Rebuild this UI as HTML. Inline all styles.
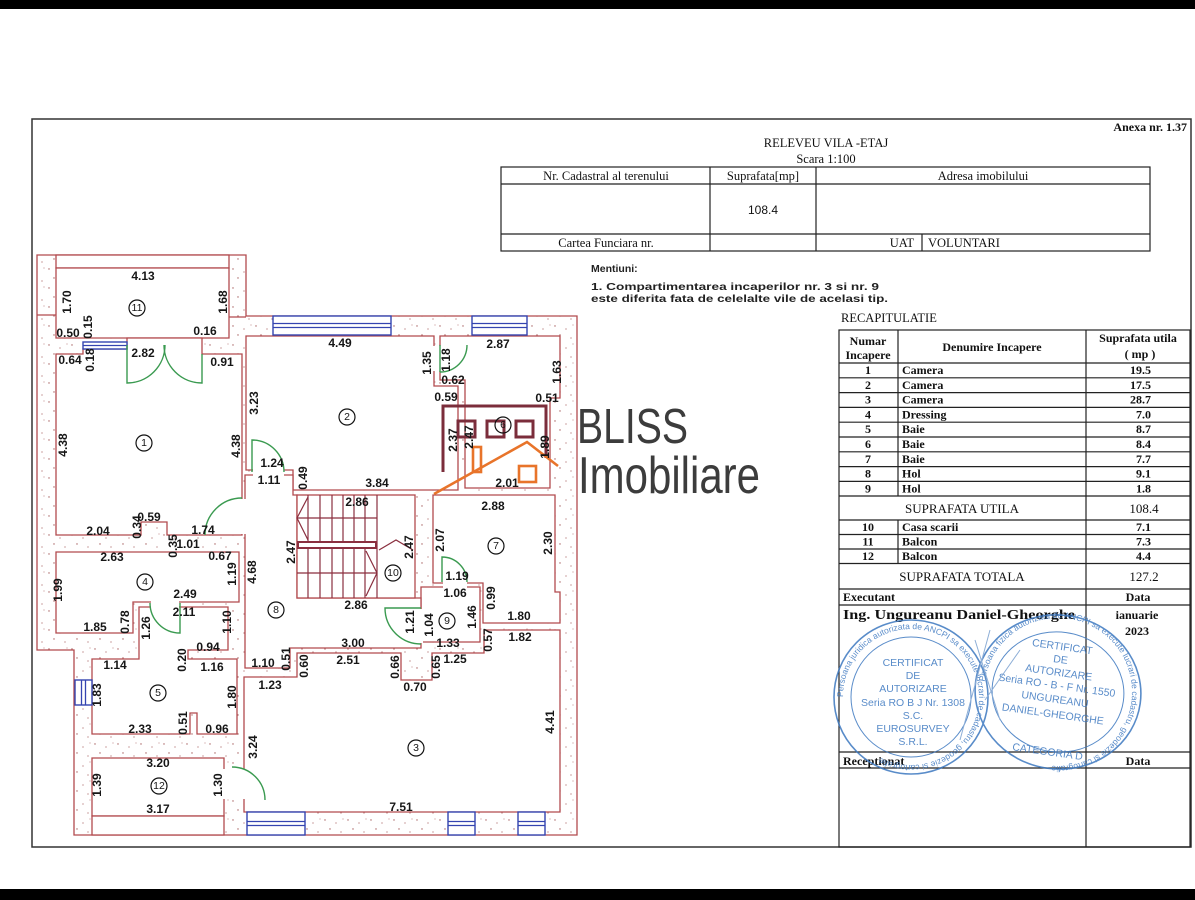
<!DOCTYPE html>
<html><head><meta charset="utf-8">
<style>
html,body{margin:0;padding:0;background:#fff;}
svg{display:block}
.d{font:bold 12px "Liberation Sans",Arial,sans-serif;fill:#161616;text-anchor:middle;dominant-baseline:central}
.w{fill:#fff;stroke:#b24a4e;stroke-width:1.3}
.g{fill:#fff;stroke:none}
.bl{fill:#fff;stroke:#3444b0;stroke-width:1.4}
.dr{fill:none;stroke:#3a9a50;stroke-width:1.4}
.st{fill:none;stroke:#8a2f3f;stroke-width:1.2}
.t{font-family:"Liberation Serif",serif;font-size:12.5px;fill:#111}
.tb{font-family:"Liberation Serif",serif;font-size:12px;font-weight:bold;fill:#111}
.ln{stroke:#222;stroke-width:1.2;fill:none}
.sb{fill:#3d78c0;font-family:"Liberation Sans",sans-serif;font-size:10.5px;text-anchor:middle}
</style></head><body>
<svg width="1195" height="900" viewBox="0 0 1195 900" xmlns="http://www.w3.org/2000/svg">
<defs>
<pattern id="h" width="23" height="19" patternUnits="userSpaceOnUse">
<rect width="23" height="19" fill="#fff"/>
<g fill="#a86060">
<circle cx="3" cy="3" r=".7"/><circle cx="14" cy="6" r=".6"/><circle cx="8" cy="12" r=".7"/><circle cx="19" cy="15" r=".6"/><circle cx="21" cy="2" r=".5"/>
</g></pattern>
<path id="c1" d="M843,697a68,68 0 1,1 136,0a68,68 0 1,1 -136,0"/>
<path id="c2" d="M984,692a74,74 0 1,1 148,0a74,74 0 1,1 -148,0"/>
</defs>

<rect x="0" y="0" width="1195" height="9" fill="#000"/>
<rect x="0" y="889" width="1195" height="11" fill="#000"/>
<rect x="32" y="119" width="1159" height="728" fill="none" stroke="#333" stroke-width="1.5"/>

<!-- building -->
<path d="M37,255H246V316H577V835H74V650H37Z" fill="url(#h)" stroke="#b24a4e" stroke-width="1.3"/>
<line x1="37" y1="315" x2="56" y2="315" stroke="#b24a4e" stroke-width="1.2"/>
<line x1="229" y1="317" x2="246" y2="317" stroke="#b24a4e" stroke-width="1.2"/>
<rect class="w" x="56" y="255" width="173" height="13"/>
<path class="w" d="M56,268H229V338H56Z"/>
<path class="w" d="M56,354H83V349H127V338H202V354H242V535H167V522H141V535H56Z"/>
<path class="w" d="M246,336H434V386H458V490H293V470H246Z"/>
<path class="w" d="M440,336H560V398H550V488H465V380H440Z"/>
<path class="w" d="M433,495H555V592H560V623H483V583H433Z"/>
<path class="w" d="M421,587H480V642H421Z"/>
<path class="w" d="M245,475H293V495H297V598H421V648H290V668H245Z"/>
<rect class="w" x="297" y="495" width="118" height="103"/>
<path class="w" d="M56,552H239V602H133V633H56Z"/>
<path class="w" d="M139,607H228V650H188V659H237V734H197V713H190V734H92V659H139Z"/>
<path class="w" d="M92,758H224V816H92Z"/>
<rect class="w" x="92" y="816" width="132" height="19"/>
<path class="w" d="M244,677H297V653H401V680H432V653H484V630H560V812H244Z"/>

<!-- door gaps -->
<rect class="g" x="240.5" y="499" width="7" height="35"/>
<rect class="g" x="253" y="469" width="31" height="7"/>
<rect class="g" x="433" y="346" width="8" height="25"/>
<rect class="g" x="443" y="582" width="24" height="6"/>
<rect class="g" x="419" y="609" width="4" height="34"/>
<rect class="g" x="151" y="601" width="28" height="7"/>
<rect class="g" x="223" y="769" width="22" height="30"/>

<!-- windows -->
<rect class="bl" x="273" y="316" width="118" height="19"/>
<path d="M273,323.5H391M273,327.5H391" stroke="#3444b0" stroke-width="1.3"/>
<rect class="bl" x="472" y="316" width="55" height="19"/>
<path d="M472,323.5H527M472,327.5H527" stroke="#3444b0" stroke-width="1.3"/>
<rect class="bl" x="83" y="342" width="44" height="7"/>
<path d="M83,345.5H127" stroke="#3444b0" stroke-width="1.3"/>
<rect class="bl" x="75" y="680" width="17" height="25"/>
<path d="M81.5,680V705M85.5,680V705" stroke="#3444b0" stroke-width="1.3"/>
<rect class="bl" x="247" y="812" width="58" height="23"/>
<path d="M247,821.5H305M247,825.5H305" stroke="#3444b0" stroke-width="1.3"/>
<rect class="bl" x="448" y="812" width="27" height="23"/>
<path d="M448,821.5H475M448,825.5H475" stroke="#3444b0" stroke-width="1.3"/>
<rect class="bl" x="518" y="812" width="27" height="23"/>
<path d="M518,821.5H545M518,825.5H545" stroke="#3444b0" stroke-width="1.3"/>

<!-- doors -->
<path class="dr" d="M127,345V383A38,38 0 0 0 165,345"/>
<path class="dr" d="M202,354V383A38,38 0 0 1 164,345"/>
<path class="dr" d="M242,498A37,37 0 0 0 205,535"/>
<path class="dr" d="M252,472V440A32,32 0 0 1 284,472"/>
<path class="dr" d="M440,345V372M440,372A27,27 0 0 0 467,345"/>
<path class="dr" d="M442,582V557A25,25 0 0 1 467,582"/>
<path class="dr" d="M421,608H385A36,36 0 0 0 421,644"/>
<path class="dr" d="M180,603V633A30,30 0 0 1 150,603"/>
<path class="dr" d="M232,767A33,33 0 0 1 265,800"/>

<!-- stairs -->
<g class="st">
<path d="M308,495V542M320,495V542M332,495V542M343,495V542M354,495V542M365,495V542M377,495V598"/>
<path d="M308,548V598M320,548V598M332,548V598M343,548V598M354,548V598M365,548V598"/>
<path d="M297,518H377M297,573H377"/>
<path d="M308,497L297,518L308,540M366,551L377,573L366,596M379,550L396,540L413,550"/>
<rect x="298" y="542" width="78" height="6" stroke-width="2"/>
</g>

<!-- logo -->
<g stroke="#7b2d3b" stroke-width="3" fill="none">
<path d="M443,472V406H546V458"/>
<rect x="458" y="421" width="17" height="16"/>
<rect x="487" y="421" width="17" height="16"/>
<rect x="516" y="421" width="17" height="16"/>
</g>
<g stroke="#e8742a" stroke-width="2.6" fill="none">
<path d="M434,494L527,442L558,466"/>
<rect x="473" y="447" width="8" height="25"/>
<rect x="519" y="466" width="17" height="16"/>
</g>
<text transform="translate(577 443) scale(1 1.3)" x="0" y="0" font-family="Liberation Sans,sans-serif" font-size="38" textLength="111" lengthAdjust="spacingAndGlyphs" fill="#3c3c3c">BLISS</text>
<text transform="translate(578 493) scale(1 1.23)" x="0" y="0" font-family="Liberation Sans,sans-serif" font-size="42" textLength="182" lengthAdjust="spacingAndGlyphs" fill="#3c3c3c">Imobiliare</text>

<!-- room numbers -->
<g fill="none" stroke="#111" stroke-width="1.2">
<circle cx="137" cy="308" r="8"/><circle cx="144" cy="443" r="8"/><circle cx="347" cy="417" r="8"/><circle cx="503" cy="425" r="8"/>
<circle cx="496" cy="546" r="8"/><circle cx="393" cy="573" r="8"/><circle cx="145" cy="582" r="8"/><circle cx="276" cy="610" r="8"/>
<circle cx="447" cy="621" r="8"/><circle cx="158" cy="693" r="8"/><circle cx="416" cy="748" r="8"/><circle cx="159" cy="786" r="8"/>
</g>
<g class="d" style="font-size:10.5px;font-weight:normal">
<text x="137" y="308">11</text><text x="144" y="443">1</text><text x="347" y="417">2</text><text x="503" y="425">6</text>
<text x="496" y="546">7</text><text x="393" y="573">10</text><text x="145" y="582">4</text><text x="276" y="610">8</text>
<text x="447" y="621">9</text><text x="158" y="693">5</text><text x="416" y="748">3</text><text x="159" y="786">12</text>
</g>

<!-- dimensions -->
<g class="d">
<text x="143" y="276">4.13</text><text x="68" y="333">0.50</text><text x="70" y="360">0.64</text><text x="143" y="353">2.82</text>
<text x="205" y="331">0.16</text><text x="222" y="362">0.91</text><text x="340" y="343">4.49</text><text x="498" y="344">2.87</text>
<text x="453" y="380">0.62</text><text x="446" y="397">0.59</text><text x="547" y="398">0.51</text><text x="272" y="463">1.24</text>
<text x="269" y="480">1.11</text><text x="377" y="483">3.84</text><text x="507" y="483">2.01</text><text x="357" y="502">2.86</text>
<text x="493" y="506">2.88</text><text x="98" y="531">2.04</text><text x="149" y="517">0.59</text><text x="203" y="530">1.74</text>
<text x="188" y="544">1.01</text><text x="112" y="557">2.63</text><text x="220" y="556">0.67</text><text x="185" y="594">2.49</text>
<text x="184" y="612">2.11</text><text x="457" y="576">1.19</text><text x="455" y="593">1.06</text><text x="356" y="605">2.86</text>
<text x="95" y="627">1.85</text><text x="208" y="647">0.94</text><text x="115" y="665">1.14</text><text x="212" y="667">1.16</text>
<text x="263" y="663">1.10</text><text x="353" y="643">3.00</text><text x="348" y="660">2.51</text><text x="448" y="643">1.33</text>
<text x="455" y="659">1.25</text><text x="519" y="616">1.80</text><text x="520" y="637">1.82</text><text x="270" y="685">1.23</text>
<text x="415" y="687">0.70</text><text x="140" y="729">2.33</text><text x="217" y="729">0.96</text><text x="158" y="763">3.20</text>
<text x="158" y="809">3.17</text><text x="401" y="807">7.51</text>
</g>
<g class="d">
<text transform="rotate(-90 67 302)" x="67" y="302">1.70</text>
<text transform="rotate(-90 88 327)" x="88" y="327">0.15</text>
<text transform="rotate(-90 90 360)" x="90" y="360">0.18</text>
<text transform="rotate(-90 223 302)" x="223" y="302">1.68</text>
<text transform="rotate(-90 63 445)" x="63" y="445">4.38</text>
<text transform="rotate(-90 254 403)" x="254" y="403">3.23</text>
<text transform="rotate(-90 236 446)" x="236" y="446">4.38</text>
<text transform="rotate(-90 427 363)" x="427" y="363">1.35</text>
<text transform="rotate(-90 446 360)" x="446" y="360">1.18</text>
<text transform="rotate(-90 557 372)" x="557" y="372">1.63</text>
<text transform="rotate(-90 453 440)" x="453" y="440">2.37</text>
<text transform="rotate(-90 469 437)" x="469" y="437">2.47</text>
<text transform="rotate(-90 545 447)" x="545" y="447">1.89</text>
<text transform="rotate(-90 303 478)" x="303" y="478">0.49</text>
<text transform="rotate(-90 291 552)" x="291" y="552">2.47</text>
<text transform="rotate(-90 409 547)" x="409" y="547">2.47</text>
<text transform="rotate(-90 440 540)" x="440" y="540">2.07</text>
<text transform="rotate(-90 548 543)" x="548" y="543">2.30</text>
<text transform="rotate(-90 137 527)" x="137" y="527">0.34</text>
<text transform="rotate(-90 173 546)" x="173" y="546">0.35</text>
<text transform="rotate(-90 232 574)" x="232" y="574">1.19</text>
<text transform="rotate(-90 252 572)" x="252" y="572">4.68</text>
<text transform="rotate(-90 58 590)" x="58" y="590">1.99</text>
<text transform="rotate(-90 125 622)" x="125" y="622">0.78</text>
<text transform="rotate(-90 146 628)" x="146" y="628">1.26</text>
<text transform="rotate(-90 227 622)" x="227" y="622">1.10</text>
<text transform="rotate(-90 182 660)" x="182" y="660">0.20</text>
<text transform="rotate(-90 491 598)" x="491" y="598">0.99</text>
<text transform="rotate(-90 472 617)" x="472" y="617">1.46</text>
<text transform="rotate(-90 410 622)" x="410" y="622">1.21</text>
<text transform="rotate(-90 429 625)" x="429" y="625">1.04</text>
<text transform="rotate(-90 488 640)" x="488" y="640">0.57</text>
<text transform="rotate(-90 286 659)" x="286" y="659">0.51</text>
<text transform="rotate(-90 304 666)" x="304" y="666">0.60</text>
<text transform="rotate(-90 395 667)" x="395" y="667">0.66</text>
<text transform="rotate(-90 436 667)" x="436" y="667">0.65</text>
<text transform="rotate(-90 97 695)" x="97" y="695">1.83</text>
<text transform="rotate(-90 232 697)" x="232" y="697">1.80</text>
<text transform="rotate(-90 183 723)" x="183" y="723">0.51</text>
<text transform="rotate(-90 253 747)" x="253" y="747">3.24</text>
<text transform="rotate(-90 550 722)" x="550" y="722">4.41</text>
<text transform="rotate(-90 97 785)" x="97" y="785">1.39</text>
<text transform="rotate(-90 218 785)" x="218" y="785">1.30</text>
</g>

<!-- title block -->
<text class="tb" x="1187" y="131" text-anchor="end">Anexa nr. 1.37</text>
<text class="t" x="826" y="147" text-anchor="middle">RELEVEU VILA  -ETAJ</text>
<text class="t" x="826" y="163" text-anchor="middle">Scara 1:100</text>
<rect class="ln" x="501" y="167" width="649" height="84"/>
<path class="ln" d="M501,184H1150M501,234H1150M710,167V251M816,167V251M922,234V251"/>
<text class="t" x="606" y="180" text-anchor="middle">Nr. Cadastral al terenului</text>
<text class="t" x="763" y="180" text-anchor="middle">Suprafata[mp]</text>
<text class="t" x="983" y="180" text-anchor="middle">Adresa imobilului</text>
<text x="763" y="214" text-anchor="middle" font-family="Liberation Sans,sans-serif" font-size="12" fill="#111">108.4</text>
<text class="t" x="606" y="247" text-anchor="middle">Cartea Funciara nr.</text>
<text class="t" x="914" y="247" text-anchor="end">UAT</text>
<text class="t" x="928" y="247">VOLUNTARI</text>

<g font-family="Liberation Sans,sans-serif" font-weight="bold" font-size="10.5" fill="#222">
<text x="591" y="272">Mentiuni:</text>
<text x="591" y="290" textLength="288" lengthAdjust="spacingAndGlyphs">1. Compartimentarea incaperilor nr. 3 si nr. 9</text>
<text x="591" y="302" textLength="297" lengthAdjust="spacingAndGlyphs">este diferita fata de celelalte vile de acelasi tip.</text>
</g>

<text class="t" x="841" y="322" font-size="13">RECAPITULATIE</text>

<!-- recap table -->
<rect class="ln" x="839" y="330" width="351" height="517"/>
<path class="ln" d="M839,363H1190M839,377.8H1190M839,392.6H1190M839,407.4H1190M839,422.2H1190M839,437H1190M839,451.8H1190M839,466.6H1190M839,481.4H1190M839,496H1190M839,520H1190M839,534.5H1190M839,549H1190M839,563.5H1190M839,589H1190M839,605H1190M839,752H1190M839,768H1190"/>
<path class="ln" d="M898,330V496M898,520V563.5M1086,330V847"/>
<g class="tb">
<text x="868" y="345" text-anchor="middle">Numar</text>
<text x="868" y="359" text-anchor="middle">Incapere</text>
<text x="992" y="351" text-anchor="middle">Denumire Incapere</text>
<text x="1138" y="342" text-anchor="middle">Suprafata utila</text>
<text x="1140" y="358" text-anchor="middle">( mp )</text>
</g>
<g class="tb">
<text x="868" y="374" text-anchor="middle">1</text><text x="902" y="374">Camera</text><text x="1151" y="374" text-anchor="end">19.5</text>
<text x="868" y="388.8" text-anchor="middle">2</text><text x="902" y="388.8">Camera</text><text x="1151" y="388.8" text-anchor="end">17.5</text>
<text x="868" y="403.6" text-anchor="middle">3</text><text x="902" y="403.6">Camera</text><text x="1151" y="403.6" text-anchor="end">28.7</text>
<text x="868" y="418.4" text-anchor="middle">4</text><text x="902" y="418.4">Dressing</text><text x="1151" y="418.4" text-anchor="end">7.0</text>
<text x="868" y="433.2" text-anchor="middle">5</text><text x="902" y="433.2">Baie</text><text x="1151" y="433.2" text-anchor="end">8.7</text>
<text x="868" y="448" text-anchor="middle">6</text><text x="902" y="448">Baie</text><text x="1151" y="448" text-anchor="end">8.4</text>
<text x="868" y="462.8" text-anchor="middle">7</text><text x="902" y="462.8">Baie</text><text x="1151" y="462.8" text-anchor="end">7.7</text>
<text x="868" y="477.6" text-anchor="middle">8</text><text x="902" y="477.6">Hol</text><text x="1151" y="477.6" text-anchor="end">9.1</text>
<text x="868" y="492.4" text-anchor="middle">9</text><text x="902" y="492.4">Hol</text><text x="1151" y="492.4" text-anchor="end">1.8</text>
<text x="962" y="513" text-anchor="middle" font-weight="normal" font-size="13">SUPRAFATA  UTILA</text><text x="1144" y="513" text-anchor="middle" font-weight="normal" font-size="13">108.4</text>
<text x="868" y="531" text-anchor="middle">10</text><text x="902" y="531">Casa scarii</text><text x="1151" y="531" text-anchor="end">7.1</text>
<text x="868" y="545.5" text-anchor="middle">11</text><text x="902" y="545.5">Balcon</text><text x="1151" y="545.5" text-anchor="end">7.3</text>
<text x="868" y="560" text-anchor="middle">12</text><text x="902" y="560">Balcon</text><text x="1151" y="560" text-anchor="end">4.4</text>
<text x="962" y="581" text-anchor="middle" font-weight="normal" font-size="13">SUPRAFATA  TOTALA</text><text x="1144" y="581" text-anchor="middle" font-weight="normal" font-size="13">127.2</text>
<text x="843" y="601">Executant</text><text x="1138" y="601" text-anchor="middle">Data</text>
<text x="843" y="619" font-size="14" textLength="232" lengthAdjust="spacingAndGlyphs">Ing. Ungureanu Daniel-Gheorghe</text>
<text x="1137" y="619" text-anchor="middle">ianuarie</text>
<text x="1137" y="635" text-anchor="middle">2023</text>
<text x="843" y="765">Receptionat</text><text x="1138" y="765" text-anchor="middle">Data</text>
</g>

<!-- stamps -->
<g opacity="0.85">
<circle cx="911" cy="697" r="77" fill="none" stroke="#3d78c0" stroke-width="1.6"/>
<circle cx="911" cy="697" r="60" fill="none" stroke="#3d78c0" stroke-width="1"/>
<text font-family="Liberation Sans,sans-serif" font-size="8.5" fill="#3d78c0"><textPath href="#c1" startOffset="0">Persoana juridica autorizata de ANCPI sa execute lucrari de cadastru, geodezie si cartografie</textPath></text>
<text class="sb" x="913" y="666">CERTIFICAT</text>
<text class="sb" x="913" y="679">DE</text>
<text class="sb" x="913" y="692">AUTORIZARE</text>
<text class="sb" x="913" y="706" font-size="9.5">Seria RO  B  J Nr. 1308</text>
<text class="sb" x="913" y="719">S.C.</text>
<text class="sb" x="913" y="732">EUROSURVEY</text>
<text class="sb" x="913" y="745">S.R.L.</text>
<g transform="rotate(8 1058 692)">
<ellipse cx="1058" cy="692" rx="83" ry="77" fill="none" stroke="#3d78c0" stroke-width="1.6"/>
<ellipse cx="1058" cy="692" rx="66" ry="60" fill="none" stroke="#3d78c0" stroke-width="1"/>
<text font-family="Liberation Sans,sans-serif" font-size="8.5" fill="#3d78c0"><textPath href="#c2" startOffset="0">Persoana fizica autorizata de ANCPI sa execute lucrari de cadastru, geodezie si cartografie</textPath></text>
<text class="sb" x="1056" y="650">CERTIFICAT</text>
<text class="sb" x="1056" y="663">DE</text>
<text class="sb" x="1056" y="676">AUTORIZARE</text>
<text class="sb" x="1056" y="689" font-size="9.5">Seria RO - B - F Nr. 1550</text>
<text class="sb" x="1056" y="703">UNGUREANU</text>
<text class="sb" x="1056" y="718">DANIEL-GHEORGHE</text>
<text class="sb" x="1056" y="756" font-size="9.5">CATEGORIA D</text>
</g>
<path d="M975,640L1000,720M990,630L960,740M1020,650L985,700" stroke="#7aa0d0" stroke-width="1" fill="none"/>
</g>
</svg>
</body></html>
